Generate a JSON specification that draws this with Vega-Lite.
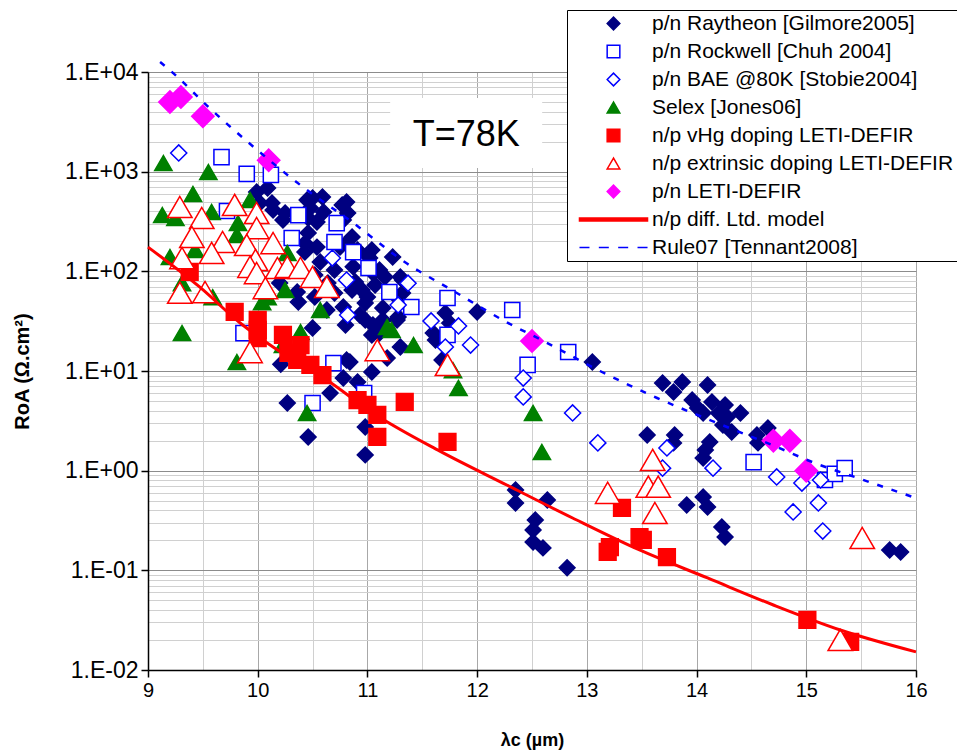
{
  "$schema": "https://vega.github.io/schema/vega-lite/v6.json",
  "width": 768,
  "height": 598,
  "autosize": {"type": "none"},
  "padding": {"left": 148, "top": 72, "right": 41, "bottom": 81},
  "background": "white",
  "config": {"view": {"stroke": null}, "font": "Liberation Sans"},
  "datasets": {
    "points": [
      {"series": "p/n Raytheon [Gilmore2005]", "wl": 9.99, "roa": 625},
      {"series": "p/n Raytheon [Gilmore2005]", "wl": 10.09, "roa": 686},
      {"series": "p/n Raytheon [Gilmore2005]", "wl": 10.13, "roa": 485},
      {"series": "p/n Raytheon [Gilmore2005]", "wl": 10.02, "roa": 485},
      {"series": "p/n Raytheon [Gilmore2005]", "wl": 10.14, "roa": 412},
      {"series": "p/n Raytheon [Gilmore2005]", "wl": 10.25, "roa": 385},
      {"series": "p/n Raytheon [Gilmore2005]", "wl": 10.23, "roa": 327},
      {"series": "p/n Raytheon [Gilmore2005]", "wl": 10.45, "roa": 520},
      {"series": "p/n Raytheon [Gilmore2005]", "wl": 10.5, "roa": 545},
      {"series": "p/n Raytheon [Gilmore2005]", "wl": 10.59, "roa": 557},
      {"series": "p/n Raytheon [Gilmore2005]", "wl": 10.48, "roa": 432},
      {"series": "p/n Raytheon [Gilmore2005]", "wl": 10.6, "roa": 394},
      {"series": "p/n Raytheon [Gilmore2005]", "wl": 10.54, "roa": 313},
      {"series": "p/n Raytheon [Gilmore2005]", "wl": 10.46, "roa": 343},
      {"series": "p/n Raytheon [Gilmore2005]", "wl": 10.77, "roa": 463},
      {"series": "p/n Raytheon [Gilmore2005]", "wl": 10.81, "roa": 496},
      {"series": "p/n Raytheon [Gilmore2005]", "wl": 10.82, "roa": 385},
      {"series": "p/n Raytheon [Gilmore2005]", "wl": 10.78, "roa": 327},
      {"series": "p/n Raytheon [Gilmore2005]", "wl": 10.46, "roa": 243},
      {"series": "p/n Raytheon [Gilmore2005]", "wl": 10.43, "roa": 192},
      {"series": "p/n Raytheon [Gilmore2005]", "wl": 10.54, "roa": 175},
      {"series": "p/n Raytheon [Gilmore2005]", "wl": 10.75, "roa": 175},
      {"series": "p/n Raytheon [Gilmore2005]", "wl": 10.81, "roa": 192},
      {"series": "p/n Raytheon [Gilmore2005]", "wl": 10.86, "roa": 221},
      {"series": "p/n Raytheon [Gilmore2005]", "wl": 10.91, "roa": 164},
      {"series": "p/n Raytheon [Gilmore2005]", "wl": 11.04, "roa": 164},
      {"series": "p/n Raytheon [Gilmore2005]", "wl": 10.87, "roa": 111},
      {"series": "p/n Raytheon [Gilmore2005]", "wl": 10.89, "roa": 78},
      {"series": "p/n Raytheon [Gilmore2005]", "wl": 11.02, "roa": 136},
      {"series": "p/n Raytheon [Gilmore2005]", "wl": 11.0, "roa": 146},
      {"series": "p/n Raytheon [Gilmore2005]", "wl": 11.11, "roa": 103},
      {"series": "p/n Raytheon [Gilmore2005]", "wl": 11.23, "roa": 139},
      {"series": "p/n Raytheon [Gilmore2005]", "wl": 11.32, "roa": 82},
      {"series": "p/n Raytheon [Gilmore2005]", "wl": 11.07, "roa": 73},
      {"series": "p/n Raytheon [Gilmore2005]", "wl": 11.14, "roa": 42.9},
      {"series": "p/n Raytheon [Gilmore2005]", "wl": 11.14, "roa": 32.5},
      {"series": "p/n Raytheon [Gilmore2005]", "wl": 11.32, "roa": 60.7},
      {"series": "p/n Raytheon [Gilmore2005]", "wl": 11.28, "roa": 34.8},
      {"series": "p/n Raytheon [Gilmore2005]", "wl": 11.71, "roa": 38.2},
      {"series": "p/n Raytheon [Gilmore2005]", "wl": 11.75, "roa": 30.3},
      {"series": "p/n Raytheon [Gilmore2005]", "wl": 11.62, "roa": 20.5},
      {"series": "p/n Raytheon [Gilmore2005]", "wl": 12.0, "roa": 39.1},
      {"series": "p/n Raytheon [Gilmore2005]", "wl": 11.68, "roa": 12.9},
      {"series": "p/n Raytheon [Gilmore2005]", "wl": 11.0, "roa": 55.3},
      {"series": "p/n Raytheon [Gilmore2005]", "wl": 10.43, "roa": 156},
      {"series": "p/n Raytheon [Gilmore2005]", "wl": 10.57, "roa": 124},
      {"series": "p/n Raytheon [Gilmore2005]", "wl": 10.52, "roa": 91.9},
      {"series": "p/n Raytheon [Gilmore2005]", "wl": 10.7, "roa": 103},
      {"series": "p/n Raytheon [Gilmore2005]", "wl": 10.36, "roa": 62.1},
      {"series": "p/n Raytheon [Gilmore2005]", "wl": 10.2, "roa": 76.4},
      {"series": "p/n Raytheon [Gilmore2005]", "wl": 10.37, "roa": 49.2},
      {"series": "p/n Raytheon [Gilmore2005]", "wl": 10.7, "roa": 60.7},
      {"series": "p/n Raytheon [Gilmore2005]", "wl": 10.64, "roa": 76.4},
      {"series": "p/n Raytheon [Gilmore2005]", "wl": 10.86, "roa": 65},
      {"series": "p/n Raytheon [Gilmore2005]", "wl": 10.98, "roa": 48.1},
      {"series": "p/n Raytheon [Gilmore2005]", "wl": 10.98, "roa": 32.5},
      {"series": "p/n Raytheon [Gilmore2005]", "wl": 10.8, "roa": 29},
      {"series": "p/n Raytheon [Gilmore2005]", "wl": 10.5, "roa": 27},
      {"series": "p/n Raytheon [Gilmore2005]", "wl": 10.81, "roa": 12.9},
      {"series": "p/n Raytheon [Gilmore2005]", "wl": 10.21, "roa": 11.7},
      {"series": "p/n Raytheon [Gilmore2005]", "wl": 11.04, "roa": 23},
      {"series": "p/n Raytheon [Gilmore2005]", "wl": 10.63, "roa": 40.9},
      {"series": "p/n Raytheon [Gilmore2005]", "wl": 10.78, "roa": 43.9},
      {"series": "p/n Raytheon [Gilmore2005]", "wl": 10.93, "roa": 36.5},
      {"series": "p/n Raytheon [Gilmore2005]", "wl": 11.05, "roa": 29},
      {"series": "p/n Raytheon [Gilmore2005]", "wl": 11.11, "roa": 24.1},
      {"series": "p/n Raytheon [Gilmore2005]", "wl": 11.27, "roa": 32.5},
      {"series": "p/n Raytheon [Gilmore2005]", "wl": 11.3, "roa": 17.4},
      {"series": "p/n Raytheon [Gilmore2005]", "wl": 11.18, "roa": 13.5},
      {"series": "p/n Raytheon [Gilmore2005]", "wl": 11.6, "roa": 24.1},
      {"series": "p/n Raytheon [Gilmore2005]", "wl": 10.84, "roa": 12.3},
      {"series": "p/n Raytheon [Gilmore2005]", "wl": 10.78, "roa": 8.5},
      {"series": "p/n Raytheon [Gilmore2005]", "wl": 10.91, "roa": 7.76},
      {"series": "p/n Raytheon [Gilmore2005]", "wl": 10.66, "roa": 6.0},
      {"series": "p/n Raytheon [Gilmore2005]", "wl": 10.27, "roa": 4.77},
      {"series": "p/n Raytheon [Gilmore2005]", "wl": 10.46, "roa": 2.18},
      {"series": "p/n Raytheon [Gilmore2005]", "wl": 10.98, "roa": 2.74},
      {"series": "p/n Raytheon [Gilmore2005]", "wl": 10.98, "roa": 1.44},
      {"series": "p/n Raytheon [Gilmore2005]", "wl": 11.04, "roa": 9.77},
      {"series": "p/n Raytheon [Gilmore2005]", "wl": 13.05, "roa": 12.3},
      {"series": "p/n Raytheon [Gilmore2005]", "wl": 13.69, "roa": 7.58},
      {"series": "p/n Raytheon [Gilmore2005]", "wl": 13.87, "roa": 7.76},
      {"series": "p/n Raytheon [Gilmore2005]", "wl": 13.79, "roa": 6.16},
      {"series": "p/n Raytheon [Gilmore2005]", "wl": 14.1, "roa": 7.24},
      {"series": "p/n Raytheon [Gilmore2005]", "wl": 13.96, "roa": 5.11},
      {"series": "p/n Raytheon [Gilmore2005]", "wl": 14.01, "roa": 4.25},
      {"series": "p/n Raytheon [Gilmore2005]", "wl": 14.14, "roa": 4.89},
      {"series": "p/n Raytheon [Gilmore2005]", "wl": 14.06, "roa": 3.79},
      {"series": "p/n Raytheon [Gilmore2005]", "wl": 14.26, "roa": 4.56},
      {"series": "p/n Raytheon [Gilmore2005]", "wl": 14.2, "roa": 3.79},
      {"series": "p/n Raytheon [Gilmore2005]", "wl": 14.28, "roa": 3.46},
      {"series": "p/n Raytheon [Gilmore2005]", "wl": 14.4, "roa": 3.79},
      {"series": "p/n Raytheon [Gilmore2005]", "wl": 14.24, "roa": 2.87},
      {"series": "p/n Raytheon [Gilmore2005]", "wl": 14.32, "roa": 2.44},
      {"series": "p/n Raytheon [Gilmore2005]", "wl": 14.65, "roa": 2.68},
      {"series": "p/n Raytheon [Gilmore2005]", "wl": 14.55, "roa": 2.28},
      {"series": "p/n Raytheon [Gilmore2005]", "wl": 14.56, "roa": 1.9},
      {"series": "p/n Raytheon [Gilmore2005]", "wl": 13.8, "roa": 2.28},
      {"series": "p/n Raytheon [Gilmore2005]", "wl": 13.79, "roa": 1.9},
      {"series": "p/n Raytheon [Gilmore2005]", "wl": 14.12, "roa": 1.94},
      {"series": "p/n Raytheon [Gilmore2005]", "wl": 14.08, "roa": 1.61},
      {"series": "p/n Raytheon [Gilmore2005]", "wl": 14.06, "roa": 1.34},
      {"series": "p/n Raytheon [Gilmore2005]", "wl": 13.55, "roa": 2.28},
      {"series": "p/n Raytheon [Gilmore2005]", "wl": 12.35, "roa": 0.64},
      {"series": "p/n Raytheon [Gilmore2005]", "wl": 12.35, "roa": 0.474},
      {"series": "p/n Raytheon [Gilmore2005]", "wl": 12.64, "roa": 0.508},
      {"series": "p/n Raytheon [Gilmore2005]", "wl": 12.53, "roa": 0.32},
      {"series": "p/n Raytheon [Gilmore2005]", "wl": 12.51, "roa": 0.254},
      {"series": "p/n Raytheon [Gilmore2005]", "wl": 12.51, "roa": 0.192},
      {"series": "p/n Raytheon [Gilmore2005]", "wl": 12.6, "roa": 0.168},
      {"series": "p/n Raytheon [Gilmore2005]", "wl": 12.82, "roa": 0.106},
      {"series": "p/n Raytheon [Gilmore2005]", "wl": 13.91, "roa": 0.453},
      {"series": "p/n Raytheon [Gilmore2005]", "wl": 14.06, "roa": 0.544},
      {"series": "p/n Raytheon [Gilmore2005]", "wl": 14.1, "roa": 0.432},
      {"series": "p/n Raytheon [Gilmore2005]", "wl": 14.23, "roa": 0.272},
      {"series": "p/n Raytheon [Gilmore2005]", "wl": 14.26, "roa": 0.216},
      {"series": "p/n Raytheon [Gilmore2005]", "wl": 15.76, "roa": 0.16},
      {"series": "p/n Raytheon [Gilmore2005]", "wl": 15.86, "roa": 0.153},
      {"series": "p/n Raytheon [Gilmore2005]", "wl": 10.52, "roa": 55.3},
      {"series": "p/n Raytheon [Gilmore2005]", "wl": 11.3, "roa": 87.7},
      {"series": "p/n Raytheon [Gilmore2005]", "wl": 11.16, "roa": 87.7},
      {"series": "p/n Raytheon [Gilmore2005]", "wl": 11.23, "roa": 60.7},
      {"series": "p/n Raytheon [Gilmore2005]", "wl": 10.95, "roa": 65},
      {"series": "p/n Raytheon [Gilmore2005]", "wl": 11.05, "roa": 96.2},
      {"series": "p/n Rockwell [Chuh 2004]", "wl": 9.67, "roa": 1400},
      {"series": "p/n Rockwell [Chuh 2004]", "wl": 9.9, "roa": 950},
      {"series": "p/n Rockwell [Chuh 2004]", "wl": 10.12, "roa": 927},
      {"series": "p/n Rockwell [Chuh 2004]", "wl": 9.72, "roa": 403},
      {"series": "p/n Rockwell [Chuh 2004]", "wl": 10.37, "roa": 367},
      {"series": "p/n Rockwell [Chuh 2004]", "wl": 10.72, "roa": 305},
      {"series": "p/n Rockwell [Chuh 2004]", "wl": 10.31, "roa": 216},
      {"series": "p/n Rockwell [Chuh 2004]", "wl": 10.7, "roa": 197},
      {"series": "p/n Rockwell [Chuh 2004]", "wl": 10.87, "roa": 156},
      {"series": "p/n Rockwell [Chuh 2004]", "wl": 11.01, "roa": 108},
      {"series": "p/n Rockwell [Chuh 2004]", "wl": 11.2, "roa": 62},
      {"series": "p/n Rockwell [Chuh 2004]", "wl": 11.4, "roa": 43.9},
      {"series": "p/n Rockwell [Chuh 2004]", "wl": 11.73, "roa": 54},
      {"series": "p/n Rockwell [Chuh 2004]", "wl": 11.73, "roa": 23},
      {"series": "p/n Rockwell [Chuh 2004]", "wl": 9.87, "roa": 24},
      {"series": "p/n Rockwell [Chuh 2004]", "wl": 10.69, "roa": 12},
      {"series": "p/n Rockwell [Chuh 2004]", "wl": 10.5, "roa": 4.77},
      {"series": "p/n Rockwell [Chuh 2004]", "wl": 10.97, "roa": 6.0},
      {"series": "p/n Rockwell [Chuh 2004]", "wl": 12.32, "roa": 40.9},
      {"series": "p/n Rockwell [Chuh 2004]", "wl": 12.46, "roa": 11.5},
      {"series": "p/n Rockwell [Chuh 2004]", "wl": 12.83, "roa": 15.5},
      {"series": "p/n Rockwell [Chuh 2004]", "wl": 14.52, "roa": 1.22},
      {"series": "p/n Rockwell [Chuh 2004]", "wl": 15.17, "roa": 0.806},
      {"series": "p/n Rockwell [Chuh 2004]", "wl": 15.26, "roa": 0.93},
      {"series": "p/n Rockwell [Chuh 2004]", "wl": 15.35, "roa": 1.06},
      {"series": "p/n BAE @80K [Stobie2004]", "wl": 9.28, "roa": 1540},
      {"series": "p/n BAE @80K [Stobie2004]", "wl": 10.68, "roa": 136},
      {"series": "p/n BAE @80K [Stobie2004]", "wl": 10.81, "roa": 81.8},
      {"series": "p/n BAE @80K [Stobie2004]", "wl": 10.82, "roa": 36.5},
      {"series": "p/n BAE @80K [Stobie2004]", "wl": 11.28, "roa": 46},
      {"series": "p/n BAE @80K [Stobie2004]", "wl": 11.37, "roa": 76},
      {"series": "p/n BAE @80K [Stobie2004]", "wl": 11.58, "roa": 31.8},
      {"series": "p/n BAE @80K [Stobie2004]", "wl": 11.83, "roa": 28.3},
      {"series": "p/n BAE @80K [Stobie2004]", "wl": 11.71, "roa": 17.4},
      {"series": "p/n BAE @80K [Stobie2004]", "wl": 11.94, "roa": 18.2},
      {"series": "p/n BAE @80K [Stobie2004]", "wl": 12.42, "roa": 8.5},
      {"series": "p/n BAE @80K [Stobie2004]", "wl": 12.42, "roa": 5.5},
      {"series": "p/n BAE @80K [Stobie2004]", "wl": 12.87, "roa": 3.79},
      {"series": "p/n BAE @80K [Stobie2004]", "wl": 13.1, "roa": 1.9},
      {"series": "p/n BAE @80K [Stobie2004]", "wl": 13.73, "roa": 1.69},
      {"series": "p/n BAE @80K [Stobie2004]", "wl": 13.69, "roa": 1.06},
      {"series": "p/n BAE @80K [Stobie2004]", "wl": 14.15, "roa": 1.06},
      {"series": "p/n BAE @80K [Stobie2004]", "wl": 14.73, "roa": 0.865},
      {"series": "p/n BAE @80K [Stobie2004]", "wl": 14.96, "roa": 0.752},
      {"series": "p/n BAE @80K [Stobie2004]", "wl": 15.13, "roa": 0.806},
      {"series": "p/n BAE @80K [Stobie2004]", "wl": 14.88, "roa": 0.385},
      {"series": "p/n BAE @80K [Stobie2004]", "wl": 15.11, "roa": 0.474},
      {"series": "p/n BAE @80K [Stobie2004]", "wl": 15.15, "roa": 0.248},
      {"series": "Selex [Jones06]", "wl": 9.14, "roa": 1220},
      {"series": "Selex [Jones06]", "wl": 9.55, "roa": 990},
      {"series": "Selex [Jones06]", "wl": 9.41, "roa": 597},
      {"series": "Selex [Jones06]", "wl": 9.93, "roa": 520},
      {"series": "Selex [Jones06]", "wl": 9.13, "roa": 367},
      {"series": "Selex [Jones06]", "wl": 9.25, "roa": 343},
      {"series": "Selex [Jones06]", "wl": 9.58, "roa": 394},
      {"series": "Selex [Jones06]", "wl": 9.82, "roa": 305},
      {"series": "Selex [Jones06]", "wl": 9.81, "roa": 232},
      {"series": "Selex [Jones06]", "wl": 9.43, "roa": 164},
      {"series": "Selex [Jones06]", "wl": 9.2, "roa": 139},
      {"series": "Selex [Jones06]", "wl": 10.27, "roa": 153},
      {"series": "Selex [Jones06]", "wl": 9.31, "roa": 76},
      {"series": "Selex [Jones06]", "wl": 9.59, "roa": 55},
      {"series": "Selex [Jones06]", "wl": 10.25, "roa": 65},
      {"series": "Selex [Jones06]", "wl": 10.09, "roa": 55},
      {"series": "Selex [Jones06]", "wl": 10.57, "roa": 41},
      {"series": "Selex [Jones06]", "wl": 10.04, "roa": 49},
      {"series": "Selex [Jones06]", "wl": 9.31, "roa": 24},
      {"series": "Selex [Jones06]", "wl": 10.39, "roa": 24.6},
      {"series": "Selex [Jones06]", "wl": 9.81, "roa": 12.3},
      {"series": "Selex [Jones06]", "wl": 11.18, "roa": 27.7},
      {"series": "Selex [Jones06]", "wl": 11.22, "roa": 25.8},
      {"series": "Selex [Jones06]", "wl": 11.42, "roa": 18.2},
      {"series": "Selex [Jones06]", "wl": 11.78, "roa": 10.2},
      {"series": "Selex [Jones06]", "wl": 11.83, "roa": 6.76},
      {"series": "Selex [Jones06]", "wl": 12.51, "roa": 3.79},
      {"series": "Selex [Jones06]", "wl": 12.59, "roa": 1.54},
      {"series": "Selex [Jones06]", "wl": 10.45, "roa": 3.79},
      {"series": "Selex [Jones06]", "wl": 10.23, "roa": 18.2},
      {"series": "n/p vHg doping LETI-DEFIR", "wl": 9.38, "roa": 98.5},
      {"series": "n/p vHg doping LETI-DEFIR", "wl": 9.79, "roa": 39.1},
      {"series": "n/p vHg doping LETI-DEFIR", "wl": 10.0, "roa": 32.5},
      {"series": "n/p vHg doping LETI-DEFIR", "wl": 10.0, "roa": 25.8},
      {"series": "n/p vHg doping LETI-DEFIR", "wl": 10.0, "roa": 21.4},
      {"series": "n/p vHg doping LETI-DEFIR", "wl": 10.23, "roa": 23},
      {"series": "n/p vHg doping LETI-DEFIR", "wl": 10.39, "roa": 18.2},
      {"series": "n/p vHg doping LETI-DEFIR", "wl": 10.28, "roa": 15.2},
      {"series": "n/p vHg doping LETI-DEFIR", "wl": 10.36, "roa": 12.9},
      {"series": "n/p vHg doping LETI-DEFIR", "wl": 10.48, "roa": 11.5},
      {"series": "n/p vHg doping LETI-DEFIR", "wl": 10.59, "roa": 9.1},
      {"series": "n/p vHg doping LETI-DEFIR", "wl": 10.91, "roa": 5.11},
      {"series": "n/p vHg doping LETI-DEFIR", "wl": 11.0, "roa": 4.56},
      {"series": "n/p vHg doping LETI-DEFIR", "wl": 11.09, "roa": 3.62},
      {"series": "n/p vHg doping LETI-DEFIR", "wl": 11.09, "roa": 2.18},
      {"series": "n/p vHg doping LETI-DEFIR", "wl": 11.34, "roa": 4.89},
      {"series": "n/p vHg doping LETI-DEFIR", "wl": 11.73, "roa": 1.94},
      {"series": "n/p vHg doping LETI-DEFIR", "wl": 13.32, "roa": 0.423},
      {"series": "n/p vHg doping LETI-DEFIR", "wl": 13.21, "roa": 0.171},
      {"series": "n/p vHg doping LETI-DEFIR", "wl": 13.19, "roa": 0.153},
      {"series": "n/p vHg doping LETI-DEFIR", "wl": 13.48, "roa": 0.216},
      {"series": "n/p vHg doping LETI-DEFIR", "wl": 13.51, "roa": 0.202},
      {"series": "n/p vHg doping LETI-DEFIR", "wl": 13.73, "roa": 0.136},
      {"series": "n/p vHg doping LETI-DEFIR", "wl": 15.01, "roa": 0.0318},
      {"series": "n/p vHg doping LETI-DEFIR", "wl": 15.4, "roa": 0.0191},
      {"series": "n/p extrinsic doping LETI-DEFIR", "wl": 9.29, "roa": 442},
      {"series": "n/p extrinsic doping LETI-DEFIR", "wl": 9.49, "roa": 343},
      {"series": "n/p extrinsic doping LETI-DEFIR", "wl": 9.4, "roa": 221},
      {"series": "n/p extrinsic doping LETI-DEFIR", "wl": 9.79, "roa": 464},
      {"series": "n/p extrinsic doping LETI-DEFIR", "wl": 9.68, "roa": 197},
      {"series": "n/p extrinsic doping LETI-DEFIR", "wl": 9.99, "roa": 385},
      {"series": "n/p extrinsic doping LETI-DEFIR", "wl": 9.99, "roa": 272},
      {"series": "n/p extrinsic doping LETI-DEFIR", "wl": 9.9, "roa": 184},
      {"series": "n/p extrinsic doping LETI-DEFIR", "wl": 10.14, "roa": 192},
      {"series": "n/p extrinsic doping LETI-DEFIR", "wl": 9.58, "roa": 153},
      {"series": "n/p extrinsic doping LETI-DEFIR", "wl": 9.31, "roa": 136},
      {"series": "n/p extrinsic doping LETI-DEFIR", "wl": 9.98, "roa": 130},
      {"series": "n/p extrinsic doping LETI-DEFIR", "wl": 9.93, "roa": 111},
      {"series": "n/p extrinsic doping LETI-DEFIR", "wl": 9.99, "roa": 96},
      {"series": "n/p extrinsic doping LETI-DEFIR", "wl": 10.18, "roa": 108},
      {"series": "n/p extrinsic doping LETI-DEFIR", "wl": 10.27, "roa": 111},
      {"series": "n/p extrinsic doping LETI-DEFIR", "wl": 10.39, "roa": 108},
      {"series": "n/p extrinsic doping LETI-DEFIR", "wl": 10.5, "roa": 88},
      {"series": "n/p extrinsic doping LETI-DEFIR", "wl": 10.63, "roa": 70},
      {"series": "n/p extrinsic doping LETI-DEFIR", "wl": 10.07, "roa": 68},
      {"series": "n/p extrinsic doping LETI-DEFIR", "wl": 9.29, "roa": 61},
      {"series": "n/p extrinsic doping LETI-DEFIR", "wl": 9.52, "roa": 62},
      {"series": "n/p extrinsic doping LETI-DEFIR", "wl": 9.93, "roa": 15.5},
      {"series": "n/p extrinsic doping LETI-DEFIR", "wl": 11.09, "roa": 16.2},
      {"series": "n/p extrinsic doping LETI-DEFIR", "wl": 11.73, "roa": 11.5},
      {"series": "n/p extrinsic doping LETI-DEFIR", "wl": 13.19, "roa": 0.6},
      {"series": "n/p extrinsic doping LETI-DEFIR", "wl": 13.6, "roa": 1.28},
      {"series": "n/p extrinsic doping LETI-DEFIR", "wl": 13.56, "roa": 0.69},
      {"series": "n/p extrinsic doping LETI-DEFIR", "wl": 13.65, "roa": 0.69},
      {"series": "n/p extrinsic doping LETI-DEFIR", "wl": 13.62, "roa": 0.376},
      {"series": "n/p extrinsic doping LETI-DEFIR", "wl": 15.51, "roa": 0.211},
      {"series": "n/p extrinsic doping LETI-DEFIR", "wl": 15.31, "roa": 0.02},
      {"series": "p/n LETI-DEFIR", "wl": 9.2, "roa": 5000},
      {"series": "p/n LETI-DEFIR", "wl": 9.3, "roa": 5600},
      {"series": "p/n LETI-DEFIR", "wl": 9.5, "roa": 3600},
      {"series": "p/n LETI-DEFIR", "wl": 10.1, "roa": 1300},
      {"series": "p/n LETI-DEFIR", "wl": 12.5, "roa": 20},
      {"series": "p/n LETI-DEFIR", "wl": 14.7, "roa": 2.0},
      {"series": "p/n LETI-DEFIR", "wl": 14.85, "roa": 2.0},
      {"series": "p/n LETI-DEFIR", "wl": 15.0, "roa": 1.0}
    ],
    "model": [
      {"series": "n/p diff. Ltd. model", "wl": 9.0, "roa": 175},
      {"series": "n/p diff. Ltd. model", "wl": 9.47, "roa": 69.7},
      {"series": "n/p diff. Ltd. model", "wl": 9.84, "roa": 30.3},
      {"series": "n/p diff. Ltd. model", "wl": 10.14, "roa": 17.4},
      {"series": "n/p diff. Ltd. model", "wl": 10.63, "roa": 8.13},
      {"series": "n/p diff. Ltd. model", "wl": 11.05, "roa": 3.79},
      {"series": "n/p diff. Ltd. model", "wl": 11.66, "roa": 1.57},
      {"series": "n/p diff. Ltd. model", "wl": 12.27, "roa": 0.718},
      {"series": "n/p diff. Ltd. model", "wl": 12.87, "roa": 0.335},
      {"series": "n/p diff. Ltd. model", "wl": 13.48, "roa": 0.16},
      {"series": "n/p diff. Ltd. model", "wl": 14.1, "roa": 0.0838},
      {"series": "n/p diff. Ltd. model", "wl": 14.7, "roa": 0.0449},
      {"series": "n/p diff. Ltd. model", "wl": 15.31, "roa": 0.0252},
      {"series": "n/p diff. Ltd. model", "wl": 16.0, "roa": 0.0152}
    ],
    "rule07": [
      {"series": "Rule07 [Tennant2008]", "wl": 9.11, "roa": 12600},
      {"series": "Rule07 [Tennant2008]", "wl": 9.25, "roa": 9300},
      {"series": "Rule07 [Tennant2008]", "wl": 9.54, "roa": 4570},
      {"series": "Rule07 [Tennant2008]", "wl": 9.96, "roa": 1780},
      {"series": "Rule07 [Tennant2008]", "wl": 10.4, "roa": 718},
      {"series": "Rule07 [Tennant2008]", "wl": 10.87, "roa": 306},
      {"series": "Rule07 [Tennant2008]", "wl": 11.34, "roa": 124},
      {"series": "Rule07 [Tennant2008]", "wl": 11.8, "roa": 62},
      {"series": "Rule07 [Tennant2008]", "wl": 12.28, "roa": 30.4},
      {"series": "Rule07 [Tennant2008]", "wl": 12.62, "roa": 19.6},
      {"series": "Rule07 [Tennant2008]", "wl": 13.12, "roa": 10},
      {"series": "Rule07 [Tennant2008]", "wl": 13.64, "roa": 5.36},
      {"series": "Rule07 [Tennant2008]", "wl": 14.19, "roa": 3.0},
      {"series": "Rule07 [Tennant2008]", "wl": 14.73, "roa": 1.73},
      {"series": "Rule07 [Tennant2008]", "wl": 15.08, "roa": 1.19},
      {"series": "Rule07 [Tennant2008]", "wl": 15.44, "roa": 0.865},
      {"series": "Rule07 [Tennant2008]", "wl": 15.97, "roa": 0.545}
    ],
    "notes": [
      {"note": "T=78K", "wl": 11.9, "roa": 1810}
    ]
  },
  "encoding": {
    "x": {
      "field": "wl", "type": "quantitative", "title": "λc (µm)",
      "scale": {"domain": [9, 16], "nice": false, "zero": false},
      "axis": {
        "title": "λc (µm)",
        "values": [9, 9.5, 10, 10.5, 11, 11.5, 12, 12.5, 13, 13.5, 14, 14.5, 15, 15.5, 16],
        "labelExpr": "datum.value % 1 === 0 ? format(datum.value, 'd') : ''",
        "grid": true,
        "gridColor": {"condition": {"test": "datum.value % 1 === 0", "value": "#a8a8a8"}, "value": "#d0d0d0"},
        "gridWidth": 1,
        "tickSize": {"condition": {"test": "datum.value % 1 === 0", "value": 7}, "value": 0},
        "tickColor": "black", "tickWidth": 1.5,
        "domainColor": "black", "domainWidth": 1.5,
        "labelFont": "Liberation Sans", "labelFontSize": 20, "labelColor": "black",
        "labelPadding": 3, "labelFlush": false, "labelOverlap": false,
        "titleFont": "Liberation Sans", "titleFontSize": 18, "titleFontWeight": "bold", "titleColor": "black",
        "titleY": 70, "titleBaseline": "middle"
      }
    },
    "y": {
      "field": "roa", "type": "quantitative", "title": "RoA (Ω.cm²)",
      "scale": {"type": "log", "domain": [0.01, 10000], "nice": false},
      "axis": {
        "title": "RoA (Ω.cm²)",
        "values": [0.01, 0.02, 0.03, 0.04, 0.05, 0.06, 0.07, 0.08, 0.09, 0.1, 0.2, 0.3, 0.4, 0.5, 0.6, 0.7, 0.8, 0.9, 1, 2, 3, 4, 5, 6, 7, 8, 9, 10, 20, 30, 40, 50, 60, 70, 80, 90, 100, 200, 300, 400, 500, 600, 700, 800, 900, 1000, 2000, 3000, 4000, 5000, 6000, 7000, 8000, 9000, 10000],
        "labelExpr": "abs(log(datum.value)/LN10 - round(log(datum.value)/LN10)) < 0.01 ? '1.E' + (datum.value >= 1 ? '+' : '-') + '0' + abs(round(log(datum.value)/LN10)) : ''",
        "grid": true,
        "gridColor": {"condition": {"test": "abs(log(datum.value)/LN10 - round(log(datum.value)/LN10)) < 0.01", "value": "#8c8c8c"}, "value": "#d0d0d0"},
        "gridWidth": 1,
        "tickSize": {"condition": {"test": "abs(log(datum.value)/LN10 - round(log(datum.value)/LN10)) < 0.01", "value": 7}, "value": 0},
        "tickColor": "black", "tickWidth": 1.5,
        "domainColor": "black", "domainWidth": 1.5,
        "labelFont": "Liberation Sans", "labelFontSize": 23, "labelColor": "black",
        "labelPadding": 3, "labelOverlap": false, "labelFlush": false,
        "titleFont": "Liberation Sans", "titleFontSize": 20, "titleFontWeight": "bold", "titleColor": "black",
        "titleX": -126, "titleY": 299, "titleAngle": 270, "titleAlign": "center", "titleBaseline": "middle"
      }
    }
  },
  "layer": [
    {
      "data": {"name": "notes"},
      "mark": {"type": "rect", "fill": "white", "stroke": null, "width": 152, "height": 70, "yOffset": -13}
    },
    {
      "data": {"name": "notes"},
      "mark": {"type": "text", "font": "Liberation Sans", "fontSize": 36, "color": "black", "align": "center", "baseline": "alphabetic"},
      "encoding": {
        "text": {"field": "note", "type": "nominal"}
      }
    },
    {
      "data": {"name": "points"},
      "mark": {
        "type": "point", "opacity": 1, "strokeWidth": 1.5,
        "size": {"expr": "datum.series === 'n/p extrinsic doping LETI-DEFIR' ? 600 : datum.series === 'p/n LETI-DEFIR' ? 500 : datum.series === 'Selex [Jones06]' ? 300 : datum.series === 'n/p vHg doping LETI-DEFIR' ? 280 : datum.series === 'p/n Rockwell [Chuh 2004]' ? 230 : datum.series === 'p/n BAE @80K [Stobie2004]' ? 260 : 250"}
      },
      "encoding": {
        "shape": {
          "field": "series", "type": "nominal",
          "scale": {"domain": ["p/n Raytheon [Gilmore2005]", "p/n Rockwell [Chuh 2004]", "p/n BAE @80K [Stobie2004]", "Selex [Jones06]", "n/p vHg doping LETI-DEFIR", "n/p extrinsic doping LETI-DEFIR", "p/n LETI-DEFIR", "n/p diff. Ltd. model", "Rule07 [Tennant2008]"],
                    "range": ["diamond", "square", "diamond", "triangle-up", "square", "triangle-up", "diamond", "M-5.38,-0.24L5.38,-0.24L5.38,0.24L-5.38,0.24Z", "M-5.38,0L-3.8,0M-2.32,0L-0.74,0M0.74,0L2.32,0M3.8,0L5.38,0"]},
          "legend": {
            "title": null, "orient": "none", "legendX": 419, "legendY": -62,
            "direction": "vertical", "columns": 1, "padding": 3,
            "fillColor": "white", "strokeColor": "black",
            "labelFont": "Liberation Sans", "labelFontSize": 21, "labelColor": "black", "labelLimit": 600,
            "labelOffset": 28, "symbolOffset": 33, "rowPadding": 6,
            "symbolSize": 160, "symbolStrokeWidth": 1.5
          }
        },
        "fill": {
          "field": "series", "type": "nominal",
          "scale": {"domain": ["p/n Raytheon [Gilmore2005]", "p/n Rockwell [Chuh 2004]", "p/n BAE @80K [Stobie2004]", "Selex [Jones06]", "n/p vHg doping LETI-DEFIR", "n/p extrinsic doping LETI-DEFIR", "p/n LETI-DEFIR", "n/p diff. Ltd. model", "Rule07 [Tennant2008]"],
                    "range": ["#000080", "#ffffff", "#ffffff", "#008000", "#ff0000", "#ffffff", "#ff00ff", "#ff0000", "transparent"]},
          "legend": {
            "title": null, "orient": "none", "legendX": 419, "legendY": -62,
            "direction": "vertical", "columns": 1, "padding": 3,
            "fillColor": "white", "strokeColor": "black",
            "labelFont": "Liberation Sans", "labelFontSize": 21, "labelColor": "black", "labelLimit": 600,
            "labelOffset": 28, "symbolOffset": 33, "rowPadding": 6,
            "symbolSize": 160, "symbolStrokeWidth": 1.5
          }
        },
        "stroke": {
          "field": "series", "type": "nominal",
          "scale": {"domain": ["p/n Raytheon [Gilmore2005]", "p/n Rockwell [Chuh 2004]", "p/n BAE @80K [Stobie2004]", "Selex [Jones06]", "n/p vHg doping LETI-DEFIR", "n/p extrinsic doping LETI-DEFIR", "p/n LETI-DEFIR", "n/p diff. Ltd. model", "Rule07 [Tennant2008]"],
                    "range": ["#000080", "#0000ff", "#0000ff", "#008000", "#ff0000", "#ff0000", "#ff00ff", "#ff0000", "#0000ff"]},
          "legend": {
            "title": null, "orient": "none", "legendX": 419, "legendY": -62,
            "direction": "vertical", "columns": 1, "padding": 3,
            "fillColor": "white", "strokeColor": "black",
            "labelFont": "Liberation Sans", "labelFontSize": 21, "labelColor": "black", "labelLimit": 600,
            "labelOffset": 28, "symbolOffset": 33, "rowPadding": 6,
            "symbolSize": 160, "symbolStrokeWidth": 1.5
          }
        }
      }
    },
    {
      "data": {"name": "model"},
      "mark": {"type": "line", "strokeWidth": 3, "interpolate": "monotone", "clip": false},
      "encoding": {
        "stroke": {
          "field": "series", "type": "nominal",
          "scale": {"domain": ["p/n Raytheon [Gilmore2005]", "p/n Rockwell [Chuh 2004]", "p/n BAE @80K [Stobie2004]", "Selex [Jones06]", "n/p vHg doping LETI-DEFIR", "n/p extrinsic doping LETI-DEFIR", "p/n LETI-DEFIR", "n/p diff. Ltd. model", "Rule07 [Tennant2008]"],
                    "range": ["#000080", "#0000ff", "#0000ff", "#008000", "#ff0000", "#ff0000", "#ff00ff", "#ff0000", "#0000ff"]}
        }
      }
    },
    {
      "data": {"name": "rule07"},
      "mark": {"type": "line", "strokeWidth": 2.5, "strokeDash": [6, 9], "interpolate": "monotone", "clip": false},
      "encoding": {
        "stroke": {
          "field": "series", "type": "nominal",
          "scale": {"domain": ["p/n Raytheon [Gilmore2005]", "p/n Rockwell [Chuh 2004]", "p/n BAE @80K [Stobie2004]", "Selex [Jones06]", "n/p vHg doping LETI-DEFIR", "n/p extrinsic doping LETI-DEFIR", "p/n LETI-DEFIR", "n/p diff. Ltd. model", "Rule07 [Tennant2008]"],
                    "range": ["#000080", "#0000ff", "#0000ff", "#008000", "#ff0000", "#ff0000", "#ff00ff", "#ff0000", "#0000ff"]}
        }
      }
    }
  ]
}
